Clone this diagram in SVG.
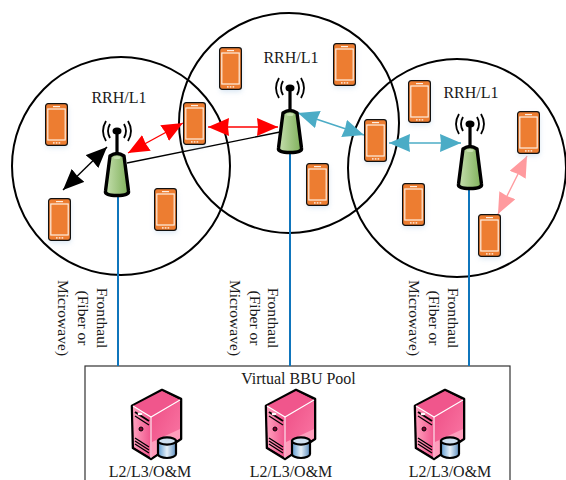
<svg xmlns="http://www.w3.org/2000/svg" width="566" height="480" viewBox="0 0 566 480">
<style>
text{font-family:"Liberation Serif","Times New Roman",serif;fill:#1a1a1a}
.l{font-size:16px;text-anchor:middle}
.r{font-size:15.6px;text-anchor:middle}
.cell{fill:none;stroke:#000;stroke-width:2}
.fh{stroke:#0f75bc;stroke-width:2;fill:none}
.c{fill:none;stroke-width:1.4}
</style>
<defs>
<filter id="sh" x="-30%" y="-20%" width="160%" height="140%"><feGaussianBlur stdDeviation="2.5"/></filter>
<linearGradient id="tg" x1="0" x2="1" y1="0" y2="0"><stop offset="0" stop-color="#c5dfae"/><stop offset="1" stop-color="#7fb05a"/></linearGradient>
<linearGradient id="sr" x1="0" x2="1" y1="0" y2="1"><stop offset="0" stop-color="#ee4f86"/><stop offset="1" stop-color="#fb7aa6"/></linearGradient>
<linearGradient id="sl" x1="0" x2="1" y1="0" y2="0"><stop offset="0" stop-color="#ffa0be"/><stop offset="1" stop-color="#f0558c"/></linearGradient>
<linearGradient id="cy" x1="0" x2="1" y1="0" y2="0"><stop offset="0" stop-color="#5d9bd0"/><stop offset=".5" stop-color="#e6f0f8"/><stop offset="1" stop-color="#5d8fc0"/></linearGradient>
<marker id="mk" markerUnits="userSpaceOnUse" viewBox="0 0 21 18" refX="21" refY="9" markerWidth="21" markerHeight="18" orient="auto-start-reverse"><path d="M0 0L21 9L0 18L1 9Z" fill="#000"/></marker>
<marker id="mr" markerUnits="userSpaceOnUse" viewBox="0 0 21 18" refX="21" refY="9" markerWidth="21" markerHeight="18" orient="auto-start-reverse"><path d="M0 0L21 9L0 18L1 9Z" fill="#f00"/></marker>
<marker id="mt" markerUnits="userSpaceOnUse" viewBox="0 0 21 18" refX="21" refY="9" markerWidth="21" markerHeight="18" orient="auto-start-reverse"><path d="M0 0L21 9L0 18L1 9Z" fill="#4bacc6"/></marker>
<marker id="mp" markerUnits="userSpaceOnUse" viewBox="0 0 21 18" refX="21" refY="9" markerWidth="21" markerHeight="18" orient="auto-start-reverse"><path d="M0 0L21 9L0 18L1 9Z" fill="#ff9a9e"/></marker>
<symbol id="phone" overflow="visible">
<rect x="1" y="3" width="22" height="42" rx="3" fill="#bcd3ea" opacity=".55" filter="url(#sh)"/>
<rect x=".6" y=".6" width="21.8" height="41.8" rx="2.6" fill="#ed7d31" stroke="#111" stroke-width="1.2"/>
<rect x="2.8" y="6" width="17.4" height="31" fill="#ed7d31" stroke="#fdeee2" stroke-width="1.2"/>
<rect x="8" y="3" width="7" height="1.2" fill="#fdeee2"/>
<rect x="8" y="39.2" width="1.6" height="1.4" fill="#fdeee2"/><rect x="10.8" y="39.2" width="1.6" height="1.4" fill="#fdeee2"/><rect x="13.6" y="39.2" width="1.6" height="1.4" fill="#fdeee2"/>
</symbol>
<symbol id="tower" overflow="visible">
<path d="M-7 -7Q-11 0 -7 7M7 -7Q11 0 7 7M-11 -10Q-17 0 -11 10M11 -10Q17 0 11 10" fill="none" stroke="#000" stroke-width="1.8"/>
<line x1="0" y1="0" x2="0" y2="24" stroke="#000" stroke-width="3.2"/>
<ellipse cx="0" cy="0" rx="4.5" ry="3.6" fill="#000"/>
<path d="M-7 25Q0 20 7 25L11.5 60Q12.5 64.5 0 64.5Q-12.5 64.5 -11.5 60Z" fill="url(#tg)" stroke="#000" stroke-width="3.4" stroke-linejoin="round"/>
<ellipse cx="0" cy="26.5" rx="3.5" ry="1.5" fill="#c5dfae"/>
</symbol>
<symbol id="server" overflow="visible">
<path d="M1 18L31 2L50 11V51L20 71L2 60Z" fill="#f0568c" stroke="#000" stroke-width="2.6" stroke-linejoin="round"/>
<path d="M2 18L31 3L49 12L20 29Z" fill="#f0568c"/>
<path d="M21 30L49 13V50L21 69Z" fill="url(#sr)"/>
<path d="M21 54L49 41V50L21 69Z" fill="#ff9dbc"/>
<path d="M2 18L20 29V69L3 59Z" fill="url(#sl)"/>
<path d="M2 18L20 29L49 12" fill="none" stroke="#fff" stroke-width="1.2"/>
<path d="M20 29V70" fill="none" stroke="#fff" stroke-width="1"/>
<path d="M4 24L18 33" stroke="#000" stroke-width="2" fill="none"/>
<path d="M4 28L18 37" stroke="#000" stroke-width="1.3" fill="none"/>
<path d="M4 50L18 59M4 53L18 62M4 56L18 65" stroke="#000" stroke-width="1.4" fill="none"/>
<ellipse cx="9" cy="26" rx="2.4" ry="1.2" fill="#fff"/>
<circle cx="10" cy="41" r="2" fill="#800030" stroke="#000"/>
<path d="M27 53V66A9 4 0 0 0 45 66V53Z" fill="url(#cy)" stroke="#000" stroke-width="2.2"/>
<ellipse cx="36" cy="53" rx="9" ry="3.6" fill="#cfe0f0" stroke="#000" stroke-width="2.2"/>
</symbol>
</defs>
<rect width="566" height="480" fill="#fff"/>
<g id="cells">
<circle class="cell" cx="121" cy="166" r="109"/>
<circle class="cell" cx="289" cy="123" r="110"/>
<circle class="cell" cx="457" cy="168" r="109"/>
</g>
<g id="box"><rect x="85" y="366" width="425" height="130" fill="none" stroke="#333" stroke-width="1.2"/></g>
<g id="connectors">
<line class="fh" x1="118" y1="196" x2="118" y2="366"/>
<line class="fh" x1="290" y1="154" x2="290" y2="366"/>
<line class="fh" x1="469" y1="190" x2="469" y2="366"/>
<line x1="127" y1="163" x2="280" y2="132" stroke="#000" stroke-width="1.3"/>
<line class="c" x1="107" y1="147" x2="63" y2="190" stroke="#000" marker-start="url(#mk)" marker-end="url(#mk)"/>
<line class="c" x1="128" y1="153" x2="183" y2="123" stroke="#f00" marker-start="url(#mr)" marker-end="url(#mr)"/>
<line class="c" x1="208" y1="127" x2="278" y2="127" stroke="#f00" marker-start="url(#mr)" marker-end="url(#mr)"/>
<line class="c" x1="298" y1="113" x2="364" y2="135" stroke="#4bacc6" marker-start="url(#mt)" marker-end="url(#mt)"/>
<line class="c" x1="389" y1="143" x2="461" y2="143" stroke="#4bacc6" marker-start="url(#mt)" marker-end="url(#mt)"/>
<line class="c" x1="527" y1="156" x2="498" y2="214" stroke="#ff9a9e" marker-start="url(#mp)" marker-end="url(#mp)"/>
</g>
<g id="ue1"><use href="#phone" x="45" y="103"/></g>
<g id="ue2"><use href="#phone" x="48" y="198"/></g>
<g id="ue3"><use href="#phone" x="154" y="188"/></g>
<g id="ue4"><use href="#phone" x="183" y="102"/></g>
<g id="ue5"><use href="#phone" x="219" y="47"/></g>
<g id="ue6"><use href="#phone" x="333" y="43"/></g>
<g id="ue7"><use href="#phone" x="306" y="163"/></g>
<g id="ue8"><use href="#phone" x="364" y="119"/></g>
<g id="ue9"><use href="#phone" x="408" y="80"/></g>
<g id="ue10"><use href="#phone" x="402" y="183"/></g>
<g id="ue11"><use href="#phone" x="517" y="111"/></g>
<g id="ue12"><use href="#phone" x="478" y="214"/></g>
<g id="rrh1"><use href="#tower" x="117" y="131"/><text class="l" x="119" y="103">RRH/L1</text></g>
<g id="rrh2"><use href="#tower" x="290" y="88"/><text class="l" x="291" y="63">RRH/L1</text></g>
<g id="rrh3"><use href="#tower" x="470" y="124"/><text class="l" x="471" y="98">RRH/L1</text></g>
<g id="labels-fronthaul">
<text class="r" transform="translate(97,318) rotate(90)">Fronthaul</text>
<text class="r" transform="translate(78,318) rotate(90)">(Fiber or</text>
<text class="r" transform="translate(58,318) rotate(90)">Microwave)</text>
<text class="r" transform="translate(268,318) rotate(90)">Fronthaul</text>
<text class="r" transform="translate(250,318) rotate(90)">(Fiber or</text>
<text class="r" transform="translate(230,318) rotate(90)">Microwave)</text>
<text class="r" transform="translate(448,318) rotate(90)">Fronthaul</text>
<text class="r" transform="translate(429,318) rotate(90)">(Fiber or</text>
<text class="r" transform="translate(409,318) rotate(90)">Microwave)</text>
</g>
<g id="pool-label"><text class="l" x="298.5" y="384">Virtual BBU Pool</text></g>
<g id="bbu1"><use href="#server" x="131" y="388"/><text class="l" x="150" y="477">L2/L3/O&amp;M</text></g>
<g id="bbu2"><use href="#server" x="265" y="388"/><text class="l" x="291" y="477">L2/L3/O&amp;M</text></g>
<g id="bbu3"><use href="#server" x="414" y="388"/><text class="l" x="450" y="477">L2/L3/O&amp;M</text></g>
</svg>
